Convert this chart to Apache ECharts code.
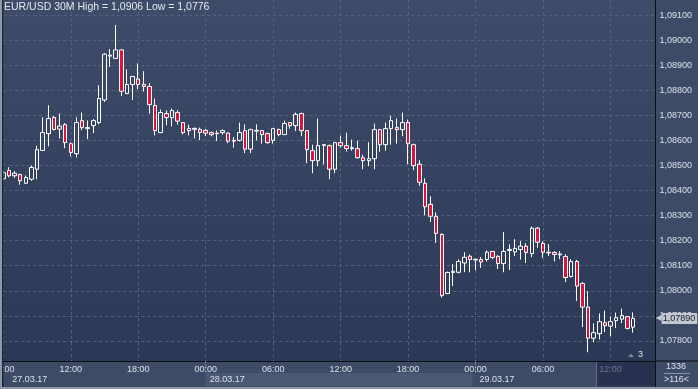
<!DOCTYPE html>
<html><head><meta charset="utf-8">
<script src="https://cdn.jsdelivr.net/npm/echarts@6/dist/echarts.min.js"></script>
<style>html,body{margin:0;padding:0;background:#3e4b66;overflow:hidden}#c{width:698px;height:389px}</style>
</head><body><div id="c"></div><script>
// EUR/USD 30M candles, 27.03.17 06:00 .. 29.03.17 14:00
const opens = [1.08447,1.08480,1.08459,1.08464,1.08429,1.08445,1.08485,1.08560,1.08627,1.08691,1.08645,1.08663,1.08587,1.08547,1.08679,1.08647,1.08659,1.08671,1.08761,1.08936,1.08927,1.08961,1.08787,1.08823,1.08845,1.08823,1.08815,1.08739,1.08631,1.08707,1.08691,1.08711,1.08671,1.08639,1.08644,1.08644,1.08640,1.08631,1.08627,1.08631,1.08629,1.08597,1.08600,1.08639,1.08565,1.08637,1.08639,1.08627,1.08600,1.08643,1.08623,1.08671,1.08659,1.08707,1.08639,1.08559,1.08519,1.08580,1.08579,1.08485,1.08591,1.08579,1.08567,1.08567,1.08531,1.08519,1.08527,1.08643,1.08583,1.08647,1.08651,1.08643,1.08671,1.08583,1.08505,1.08429,1.08345,1.08297,1.08225,1.07989,1.08073,1.08074,1.08111,1.08138,1.08123,1.08125,1.08125,1.08157,1.08137,1.08109,1.08161,1.08155,1.08165,1.08178,1.08149,1.08250,1.08189,1.08151,1.08153,1.08143,1.08137,1.08057,1.08117,1.08029,1.07935,1.07811,1.07829,1.07873,1.07859,1.07881,1.07887,1.07897,1.07855];
const highs = [1.08477,1.08493,1.08477,1.08467,1.08460,1.08500,1.08579,1.08692,1.08740,1.08697,1.08707,1.08669,1.08592,1.08692,1.08711,1.08680,1.08685,1.08820,1.08948,1.08964,1.09060,1.08963,1.08883,1.08855,1.08907,1.08876,1.08828,1.08767,1.08723,1.08720,1.08727,1.08720,1.08673,1.08663,1.08651,1.08651,1.08645,1.08635,1.08640,1.08644,1.08632,1.08613,1.08671,1.08664,1.08647,1.08664,1.08639,1.08631,1.08647,1.08647,1.08679,1.08671,1.08711,1.08711,1.08639,1.08583,1.08687,1.08583,1.08583,1.08593,1.08619,1.08631,1.08603,1.08599,1.08543,1.08593,1.08667,1.08643,1.08671,1.08699,1.08687,1.08711,1.08683,1.08587,1.08521,1.08449,1.08377,1.08313,1.08229,1.08077,1.08106,1.08125,1.08154,1.08145,1.08127,1.08135,1.08161,1.08159,1.08143,1.08234,1.08186,1.08206,1.08198,1.08190,1.08257,1.08254,1.08197,1.08186,1.08158,1.08159,1.08146,1.08126,1.08123,1.08035,1.07998,1.07870,1.07910,1.07921,1.07897,1.07913,1.07929,1.07898,1.07914];
const lows = [1.08443,1.08453,1.08451,1.08423,1.08427,1.08439,1.08445,1.08557,1.08576,1.08640,1.08608,1.08569,1.08536,1.08531,1.08641,1.08605,1.08629,1.08664,1.08753,1.08893,1.08927,1.08777,1.08784,1.08761,1.08804,1.08795,1.08707,1.08620,1.08629,1.08660,1.08656,1.08663,1.08624,1.08620,1.08608,1.08601,1.08617,1.08616,1.08597,1.08623,1.08589,1.08571,1.08596,1.08549,1.08549,1.08600,1.08587,1.08587,1.08587,1.08617,1.08623,1.08647,1.08637,1.08617,1.08509,1.08469,1.08497,1.08504,1.08445,1.08469,1.08571,1.08555,1.08559,1.08527,1.08485,1.08497,1.08485,1.08555,1.08559,1.08583,1.08587,1.08617,1.08505,1.08481,1.08419,1.08302,1.08275,1.08191,1.07973,1.07987,1.08019,1.08070,1.08074,1.08074,1.08082,1.08091,1.08117,1.08126,1.08087,1.08074,1.08083,1.08139,1.08125,1.08111,1.08134,1.08171,1.08131,1.08139,1.08117,1.08126,1.08035,1.08053,1.07959,1.07855,1.07755,1.07795,1.07806,1.07835,1.07819,1.07851,1.07871,1.07846,1.07833];
const closes = [1.08471,1.08459,1.08469,1.08439,1.08452,1.08492,1.08563,1.08631,1.08687,1.08643,1.08657,1.08591,1.08552,1.08671,1.08651,1.08651,1.08679,1.08767,1.08944,1.08940,1.08961,1.08796,1.08823,1.08855,1.08823,1.08815,1.08743,1.08639,1.08711,1.08691,1.08719,1.08677,1.08631,1.08648,1.08648,1.08632,1.08629,1.08623,1.08629,1.08639,1.08597,1.08600,1.08631,1.08565,1.08643,1.08640,1.08623,1.08591,1.08647,1.08623,1.08667,1.08659,1.08704,1.08639,1.08563,1.08519,1.08579,1.08583,1.08485,1.08591,1.08579,1.08567,1.08571,1.08531,1.08519,1.08527,1.08643,1.08583,1.08647,1.08679,1.08643,1.08671,1.08587,1.08499,1.08433,1.08335,1.08297,1.08229,1.07981,1.08073,1.08078,1.08117,1.08134,1.08125,1.08126,1.08115,1.08154,1.08133,1.08109,1.08157,1.08165,1.08169,1.08178,1.08153,1.08250,1.08194,1.08154,1.08154,1.08145,1.08147,1.08053,1.08117,1.08019,1.07935,1.07811,1.07833,1.07877,1.07861,1.07877,1.07893,1.07901,1.07850,1.07890];

const titleText = 'EUR/USD 30M High = 1,0906 Low = 1,0776';
const startTime = Date.UTC(2017, 2, 27, 6, 0);
const stepMinutes = 30;
const categoryCount = 117; // includes empty right-side shift
const yMin = 1.0772, yMax = 1.0916;
const fontFamily = 'Liberation Sans, Arial, sans-serif';

function pad(n){ return (n < 10 ? '0' : '') + n; }
const categories = [];
for (let i = 0; i < categoryCount; i++) {
  const d = new Date(startTime + i * stepMinutes * 60000);
  categories.push(pad(d.getUTCDate()) + '.' + pad(d.getUTCMonth() + 1) + '.' + String(d.getUTCFullYear()).slice(2) + ' ' + pad(d.getUTCHours()) + ':' + pad(d.getUTCMinutes()));
}
const timeOf = v => v.slice(9);
const dateOf = v => v.slice(0, 8);
const isSixHour = v => { const t = timeOf(v); return t.slice(3) === '00' && (+t.slice(0, 2)) % 6 === 0; };
const isMidnight = v => timeOf(v) === '00:00';

const candleData = opens.map((o, i) => [o, closes[i], lows[i], highs[i]]);
const lastClose = closes[closes.length - 1];
const fmtPrice = v => v.toFixed(5).replace('.', ',');

const gridLeft = 3.3, gridTop = 0, gridWidth = 652.2, gridHeight = 361;
const step = gridWidth / (categoryCount - 1);
const labelColor = '#d9e0ea';
const gridLineColor = '#56627d';
const tagColor = '#c3c8d0';

const chart = echarts.init(document.getElementById('c'), null, {renderer: 'canvas'});
const option = {
  animation: false,
  textStyle: {fontFamily: fontFamily},
  title: {text: titleText, left: 4, top: 2, padding: 0,
    textStyle: {fontSize: 10.5, color: '#e3e8ef', fontWeight: 'normal', fontFamily: fontFamily}},
  grid: {left: gridLeft, top: gridTop, width: gridWidth, height: gridHeight, show: true, borderWidth: 0,
    containLabel: false, outerBoundsMode: 'none',
    backgroundColor: new echarts.graphic.LinearGradient(0, 0, 0, 1, [
      {offset: 0, color: '#3e4c6a'}, {offset: 1, color: '#2b3957'}])},
  xAxis: [{
    type: 'category', data: categories, boundaryGap: false, position: 'bottom',
    axisLine: {show: true, lineStyle: {color: '#0b0d12', width: 1}},
    axisTick: {show: true, interval: (i, v) => isMidnight(v), length: 12, lineStyle: {color: '#66728b'}},
    axisLabel: {interval: (i, v) => isSixHour(v), color: labelColor, fontSize: 9, margin: 4, fontFamily: fontFamily,
      formatter: (v, i) => i >= 106 ? '{g|' + timeOf(v) + '}' : timeOf(v),
      rich: {g: {color: '#6c778b', fontSize: 9, fontFamily: fontFamily}}},
    splitLine: {show: true, interval: (i, v) => isSixHour(v), lineStyle: {color: gridLineColor, type: [3, 3], width: 1}}
  }, {
    type: 'category', data: categories, boundaryGap: false, position: 'bottom',
    axisLine: {show: false}, axisTick: {show: false}, splitLine: {show: false},
    axisLabel: {interval: (i, v) => i === 0 || isMidnight(v), margin: 12, align: 'left', color: labelColor, fontSize: 9, fontFamily: fontFamily,
      formatter: (v, i) => i === 0 ? '{a|' + dateOf(v) + '}' : (dateOf(v) === '28.03.17' ? '{b|' + dateOf(v) + '}' : '{c|' + dateOf(v) + '}'),
      rich: {
        a: {padding: [0, 0, 0, 9], lineHeight: 13, height: 13, color: labelColor, fontSize: 9, fontFamily: fontFamily},
        b: {padding: [0, 0, 0, 4], lineHeight: 13, height: 13, width: 48 * step - 7, backgroundColor: '#4b5873', color: labelColor, fontSize: 9, fontFamily: fontFamily},
        c: {padding: [0, 0, 0, 4], lineHeight: 13, height: 13, color: labelColor, fontSize: 9, fontFamily: fontFamily}
      }}
  }],
  yAxis: {
    type: 'value', position: 'right', min: yMin, max: yMax, splitNumber: 14, scale: true,
    axisLine: {show: true, lineStyle: {color: '#0b0d12', width: 1}},
    axisTick: {show: false},
    axisLabel: {color: labelColor, fontSize: 9, margin: 4, fontFamily: fontFamily, formatter: fmtPrice, showMinLabel: false, showMaxLabel: false},
    splitLine: {show: true, showMinLine: false, showMaxLine: false, lineStyle: {color: gridLineColor, type: [3, 3], width: 1}}
  },
  series: [{
    type: 'candlestick', xAxisIndex: 0, data: candleData, barWidth: 4, clip: true,
    itemStyle: {color: 'transparent', color0: '#dc143c', borderColor: '#ffffff', borderColor0: '#ffffff', borderWidth: 1},
    markLine: {
      symbol: 'none', silent: true, animation: false, precision: 5,
      lineStyle: {color: 'rgba(0,0,0,0)', width: 0},
      label: {show: true, position: 'end', distance: 0, formatter: () => '{t|\u25C0}{v|' + fmtPrice(lastClose) + '}',
        rich: {
          t: {color: tagColor, fontSize: 8, padding: [0, 0, 0, 0], fontFamily: 'DejaVu Sans'},
          v: {backgroundColor: tagColor, color: '#1a1f2a', fontSize: 9, padding: [1, 2, 1, 1], fontFamily: fontFamily}
        }},
      data: [{yAxis: lastClose}]
    }
  }]
};
chart.setOption(option);

const xShift = chart.convertToPixel({xAxisIndex: 0}, categories[105]) + 0.6 * step;
const plotRight = gridLeft + gridWidth;
const plotBottom = gridTop + gridHeight;
chart.setOption({graphic: [
  {type: 'rect', z: -1, silent: true, shape: {x: xShift, y: plotBottom + 0.5, width: plotRight - xShift, height: 25}, style: {fill: '#283250'}},
  {type: 'rect', z: -1, silent: true, shape: {x: xShift - 1, y: plotBottom + 0.5, width: 1, height: 25}, style: {fill: '#65718a'}},
  {type: 'rect', z: 50, silent: true, shape: {x: plotRight - 0.5, y: plotBottom, width: 1, height: 26}, style: {fill: '#0b0d12'}},
  {type: 'rect', z: 50, silent: true, shape: {x: plotRight, y: plotBottom - 0.5, width: 698 - plotRight, height: 1}, style: {fill: '#0b0d12'}},
  {type: 'text', z: 50, silent: true, x: 676, y: 366.5, style: {text: '1336', fill: labelColor, fontSize: 9, fontFamily: fontFamily, align: 'center', verticalAlign: 'middle'}},
  {type: 'rect', z: 50, silent: true, shape: {x: 664, y: 373, width: 26, height: 1}, style: {fill: '#8a94a6'}},
  {type: 'text', z: 50, silent: true, x: 676.5, y: 380, style: {text: '>116<', fill: labelColor, fontSize: 9, fontFamily: fontFamily, align: 'center', verticalAlign: 'middle'}},
  {type: 'polygon', z: 50, silent: true, shape: {points: [[628, 357], [631, 353.5], [634, 357]]}, style: {fill: '#7d8799'}},
  {type: 'text', z: 50, silent: true, x: 638, y: 355, style: {text: '3', fill: labelColor, fontSize: 9, fontFamily: fontFamily, align: 'left', verticalAlign: 'middle'}},
  {type: 'rect', z: 100, silent: true, shape: {x: 0, y: 0, width: 2, height: 389}, style: {fill: '#8f98a8'}},
  {type: 'rect', z: 100, silent: true, shape: {x: 2, y: 0, width: 1.5, height: 387}, style: {fill: '#1e2638'}},
  {type: 'rect', z: 100, silent: true, shape: {x: 0, y: 387, width: 698, height: 2}, style: {fill: '#8f98a8'}}
]});
</script></body></html>
